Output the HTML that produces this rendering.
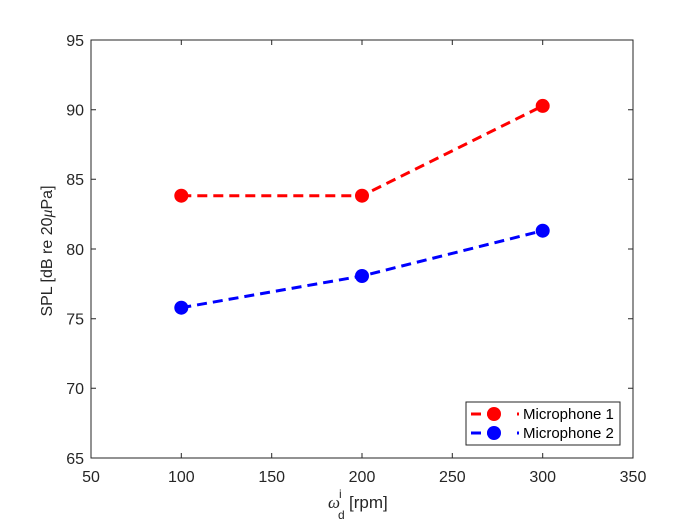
<!DOCTYPE html>
<html><head><meta charset="utf-8"><style>html,body{margin:0;padding:0;background:#fff}svg{display:block}</style></head>
<body>
<svg width="700" height="525" xmlns="http://www.w3.org/2000/svg" font-family="Liberation Sans, sans-serif">
<rect width="700" height="525" fill="#fff"/>
<g stroke="#262626" stroke-width="1" fill="none">
<rect x="91" y="40" width="542" height="418"/>
<g>
<path d="M181.3 458v-5M271.7 458v-5M362 458v-5M452.3 458v-5M542.7 458v-5"/>
<path d="M181.3 40v5M271.7 40v5M362 40v5M452.3 40v5M542.7 40v5"/>
<path d="M91 109.7h5M91 179.3h5M91 249h5M91 318.7h5M91 388.3h5"/>
<path d="M633 109.7h-5M633 179.3h-5M633 249h-5M633 318.7h-5M633 388.3h-5"/>
</g>
</g>
<g font-size="16" fill="#262626" text-anchor="middle">
<text x="91" y="482">50</text><text x="181.3" y="482">100</text><text x="271.7" y="482">150</text><text x="362" y="482">200</text><text x="452.3" y="482">250</text><text x="542.7" y="482">300</text><text x="633" y="482">350</text>
</g>
<g font-size="16" fill="#262626" text-anchor="end">
<text x="84" y="46">95</text><text x="84" y="115.5">90</text><text x="84" y="185">85</text><text x="84" y="255">80</text><text x="84" y="324.5">75</text><text x="84" y="394">70</text><text x="84" y="464">65</text>
</g>
<text transform="translate(52,251) rotate(-90)" font-size="16" fill="#262626" text-anchor="middle">SPL [dB re 20<tspan font-family="Liberation Serif, serif" font-style="italic">μ</tspan>Pa]</text>
<text x="328" y="508" font-size="17" fill="#262626" font-family="Liberation Serif, serif" font-style="italic">ω</text>
<text x="339" y="498" font-size="12" fill="#262626">i</text>
<text x="338" y="519" font-size="12" fill="#262626">d</text>
<text x="349" y="508" font-size="17" fill="#262626">[rpm]</text>
<polyline points="181.3,195.7 362,195.7 542.7,105.9" fill="none" stroke="#f00" stroke-width="3" stroke-dasharray="10,6"/>
<polyline points="181.3,307.7 362,276 542.7,230.7" fill="none" stroke="#00f" stroke-width="3" stroke-dasharray="10,6"/>
<g fill="#f00"><circle cx="181.3" cy="195.7" r="7"/><circle cx="362" cy="195.7" r="7"/><circle cx="542.7" cy="105.9" r="7"/></g>
<g fill="#00f"><circle cx="181.3" cy="307.7" r="7"/><circle cx="362" cy="276" r="7"/><circle cx="542.7" cy="230.7" r="7"/></g>
<rect x="466" y="402" width="154" height="43" fill="#fff" stroke="#262626" stroke-width="1"/>
<g stroke-width="3">
<path d="M471 414h10M487 414h10M517 414h2" stroke="#f00"/>
<circle cx="494" cy="414" r="7" fill="#f00"/>
<path d="M471 433h10M487 433h10M517 433h2" stroke="#00f"/>
<circle cx="494" cy="433" r="7" fill="#00f"/>
</g>
<g font-size="15" fill="#000">
<text x="523" y="419">Microphone 1</text>
<text x="523" y="438">Microphone 2</text>
</g>
</svg>
</body></html>
